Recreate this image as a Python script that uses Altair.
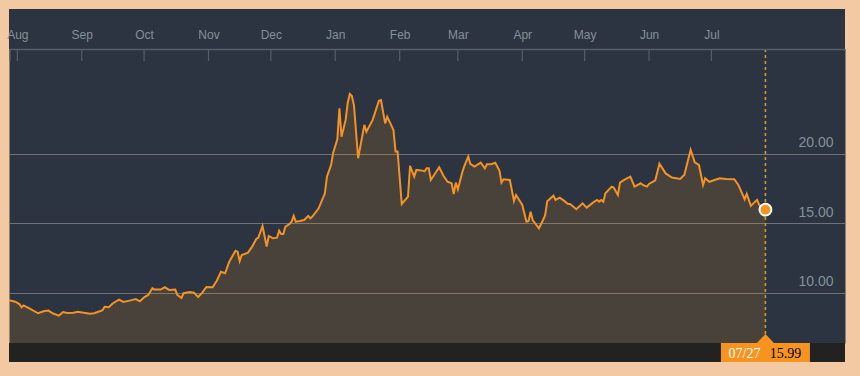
import altair as alt
import pandas as pd

# ---------------- data ----------------
start_date = "2017-07-28"
day_offsets = [
    0, 3, 5, 6, 7, 10, 14, 17, 19, 21, 24, 26, 28, 31, 33, 36, 39, 41, 44, 45,
    46, 48, 50, 53, 55, 58, 61, 63, 65, 67, 69, 70, 73, 75, 77, 80, 81, 83, 84, 87,
    89, 91, 93, 95, 98, 100, 102, 104, 106, 109, 110, 111, 112, 115, 117, 119, 120, 122, 124, 125,
    127, 129, 130, 131, 132, 133, 135, 136, 137, 138, 140, 142, 144, 145, 146, 149, 152, 153, 155, 156,
    158, 159, 160, 162, 163, 164, 165, 166, 168, 171, 172, 175, 178, 179, 181, 182, 185, 186, 187, 189,
    192, 193, 195, 196, 199, 200, 201, 202, 203, 207, 209, 211, 213, 214, 215, 216, 218, 219, 221, 222,
    224, 227, 229, 230, 232, 234, 236, 237, 238, 241, 243, 244, 247, 249, 250, 251, 252, 255, 257, 258,
    259, 262, 263, 265, 267, 269, 270, 273, 276, 278, 281, 283, 284, 285, 286, 287, 290, 291, 293, 294,
    296, 299, 301, 304, 305, 307, 308, 311, 313, 316, 319, 323, 325, 328, 330, 332, 334, 335, 337, 342,
    345, 349, 351, 354, 355, 357, 359, 360, 361, 364,
]
values = [
    9.47, 9.37, 9.20, 8.97, 9.10, 8.87, 8.54, 8.70, 8.73, 8.54, 8.37, 8.63, 8.56, 8.58, 8.65, 8.58, 8.51, 8.54, 8.70, 8.76,
    9.00, 8.97, 9.26, 9.52, 9.35, 9.45, 9.56, 9.40, 9.69, 9.86, 10.34, 10.24, 10.24, 10.41, 10.22, 10.24, 9.86, 9.64, 9.98, 10.07,
    10.02, 9.71, 10.02, 10.43, 10.41, 10.88, 11.53, 11.42, 12.25, 13.04, 12.97, 12.30, 12.73, 12.90, 13.33, 13.88, 13.98, 14.82, 13.33, 14.10,
    13.93, 13.98, 14.48, 14.24, 14.24, 14.77, 14.96, 15.13, 15.54, 15.13, 15.18, 15.25, 15.54, 15.37, 15.49, 16.09, 17.17, 18.37, 19.21, 20.09,
    21.06, 23.29, 21.24, 22.45, 23.69, 24.32, 24.17, 23.50, 19.69, 22.09, 21.60, 22.45, 23.83, 23.88, 22.20, 22.68, 21.73, 20.17, 20.17, 16.40,
    16.93, 19.14, 18.37, 18.85, 18.80, 18.75, 18.97, 18.97, 18.13, 19.04, 18.45, 18.00, 17.89, 17.12, 17.94, 17.46, 18.61, 19.09, 19.81, 19.28,
    19.09, 19.37, 18.97, 19.26, 19.26, 19.37, 18.80, 17.94, 18.18, 18.13, 16.62, 17.05, 16.33, 15.13, 15.18, 15.85, 15.25, 14.65, 15.25, 15.60,
    16.60, 17.00, 16.69, 16.86, 16.64, 16.40, 16.40, 16.02, 16.45, 16.14, 16.50, 16.69, 16.57, 16.69, 16.57, 17.17, 17.65, 17.58, 17.05, 17.94,
    18.13, 18.37, 17.65, 17.89, 17.77, 17.65, 17.84, 18.10, 19.30, 18.60, 18.30, 18.20, 18.50, 20.30, 19.40, 19.21, 17.77, 18.25, 18.00, 18.25,
    18.20, 18.18, 17.77, 16.74, 17.12, 16.26, 16.57, 16.69, 16.33, 15.99,
]
month_starts = [
    "2017-08-01", "2017-09-01", "2017-10-01", "2017-11-01", "2017-12-01", "2018-01-01",
    "2018-02-01", "2018-03-01", "2018-04-01", "2018-05-01", "2018-06-01", "2018-07-01",
]
y_ticks = [10, 15, 20]
y_domain = [6.4, 27.55]

# ---------------- tables ----------------
dates = pd.Timestamp(start_date) + pd.to_timedelta(day_offsets, unit="D")
df = pd.DataFrame({"date": dates, "value": values})
last = df.iloc[[-1]].copy()
last["date_label"] = last["date"].dt.strftime("%m/%d")
last["value_label"] = last["value"].map(lambda v: f"{v:.2f}")
months_df = pd.DataFrame({"date": pd.to_datetime(month_starts)})
one = pd.DataFrame({"k": [0]})

W, H = 836, 294
BG = "#2b3440"
ORANGE = "#f7931e"
LABEL = "#85909b"
TICK = "#565e67"

month_vals = [alt.DateTime(year=int(s[:4]), month=int(s[5:7]), date=1) for s in month_starts]

x_enc = alt.X(
    "date:T",
    title=None,
    scale=alt.Scale(domain=[alt.DateTime(year=2017, month=7, date=28),
                            alt.DateTime(year=2018, month=9, date=3, hours=7)]),
    axis=alt.Axis(orient="top", values=month_vals, format="%b", ticks=False, tickSize=0,
                  labelPadding=11, labelBaseline="alphabetic", labelFont="Liberation Sans",
                  labelFontSize=12, labelColor=LABEL, domain=True, domainColor=TICK,
                  domainWidth=1.5, grid=False, zindex=1, labelFlush=False),
)
y_enc = alt.Y(
    "value:Q",
    title=None,
    scale=alt.Scale(domain=y_domain, zero=False, nice=False),
    axis=alt.Axis(orient="right", values=y_ticks, format=".2f", ticks=False, tickSize=0,
                  domain=False, labelAlign="right", labelPadding=-12, labelBaseline="alphabetic",
                  labelOffset=-7, labelFont="Liberation Sans", labelFontSize=14,
                  labelColor=LABEL, grid=True, gridColor="#6f7378", gridWidth=1.2),
)

base = alt.Chart(df)

area = base.mark_area(color=ORANGE, opacity=0.15).encode(
    x=x_enc, y=y_enc, y2=alt.datum(y_domain[0])
)
line = base.mark_line(color="#f39325", strokeWidth=2).encode(x=x_enc, y=y_enc)

vrule = alt.Chart(last).mark_rule(color="#d19a2c", strokeWidth=1.6, strokeDash=[3, 3]).encode(
    x=x_enc
)
dot = alt.Chart(last).mark_point(
    filled=True, fill=ORANGE, stroke="white", strokeWidth=2, size=140, opacity=1
).encode(x=x_enc, y=y_enc)

month_ticks = alt.Chart(months_df).mark_rule(color=TICK, strokeWidth=1.2).encode(
    x=x_enc, y=alt.value(0), y2=alt.value(12)
)
edge_tick = alt.Chart(one).mark_rule(color=TICK, strokeWidth=1.2).encode(
    x=alt.value(1), y=alt.value(0), y2=alt.value(12)
)

top_band = alt.Chart(one).mark_rect(color=BG).encode(
    x=alt.value(0), x2=alt.value(W), y=alt.value(-40), y2=alt.value(0)
)
bottom_bar = alt.Chart(one).mark_rect(color="#222222").encode(
    x=alt.value(0), x2=alt.value(W), y=alt.value(H), y2=alt.value(H + 19)
)

box_path = ("M-1,-0.2135 L-0.191,-0.2135 L0,-0.4157 L0.191,-0.2135 L1,-0.2135 "
            "L1,0.2135 L-1,0.2135 Z")
box = alt.Chart(last).mark_point(
    shape=box_path, filled=True, fill=ORANGE, strokeWidth=0, size=89 * 89, opacity=1
).encode(x=x_enc, y=alt.value(H + 9.5))

date_text = alt.Chart(last).mark_text(
    font="Liberation Serif", fontSize=14, color="white", align="center",
    baseline="alphabetic", dx=-21
).encode(x=x_enc, y=alt.value(H + 14.7), text="date_label:N")
val_text = alt.Chart(last).mark_text(
    font="Liberation Serif", fontSize=14, color="black", align="center",
    baseline="alphabetic", dx=20
).encode(x=x_enc, y=alt.value(H + 14.7), text="value_label:N")

chart = alt.layer(
    area, line, vrule, dot, top_band, bottom_bar, month_ticks, edge_tick, box, date_text, val_text
).properties(
    width=W, height=H,
    background="#f2c9a3",
    padding={"left": 9, "top": 49, "right": 15, "bottom": 33},
    autosize=alt.AutoSizeParams(type="none"),
).configure_view(fill=BG, stroke="transparent")

chart.save("out.html", embed_options={"renderer": "svg", "actions": False})
